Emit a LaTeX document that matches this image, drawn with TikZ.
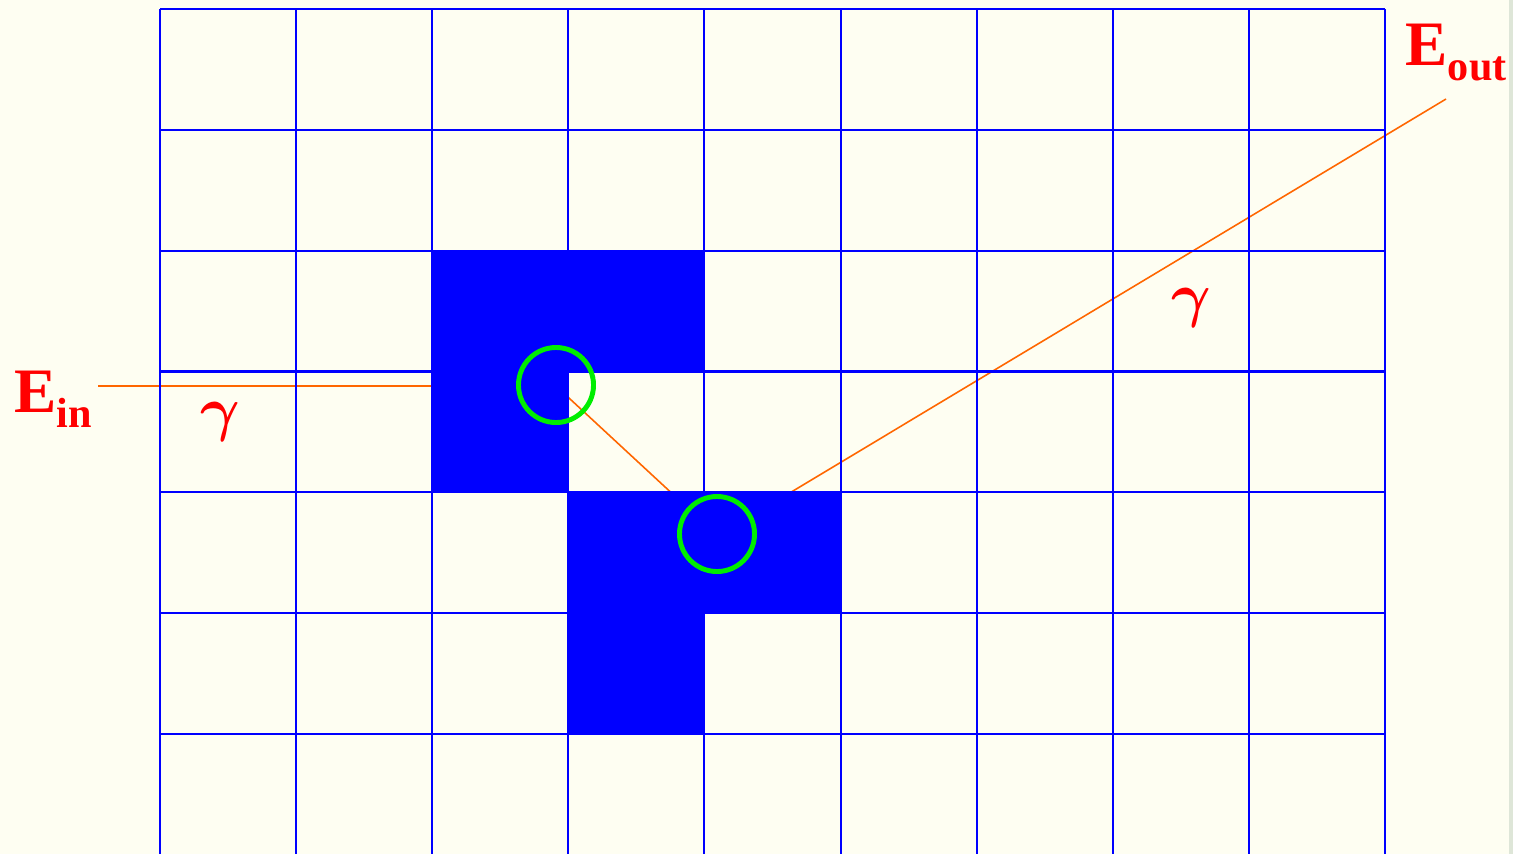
\documentclass[tikz,border=0pt]{standalone}
\usepackage{fontspec}
\setmainfont{Liberation Serif}
\usepackage{tikz}
\usetikzlibrary{positioning}
\usepackage{xcolor}
\definecolor{paper}{RGB}{254,254,242}
\definecolor{gridblue}{RGB}{0,0,255}
\definecolor{raycol}{RGB}{255,102,0}
\definecolor{ringcol}{RGB}{0,238,0}
\definecolor{edgecol}{RGB}{222,230,216}
\newcommand{\Elbl}[1]{\fontsize{18}{18}\selectfont\bfseries E\raisebox{-4.5pt}{\fontsize{12}{12}\selectfont #1}}

\begin{document}
\begin{tikzpicture}[x=0.01cm, y=-0.01cm,
    ray/.style={draw=raycol, line width=0.45pt},
    ring/.style={circle, draw=ringcol, line width=1.4pt, minimum size=0.75cm, inner sep=0pt},
    lbl/.style={text=red, inner sep=0pt, anchor=base west},
    gam/.style={text=red, inner sep=0pt, font=\fontsize{19}{19}\selectfont\boldmath}]
        \fill[paper]  (0,0) rectangle (1513,854);
        \fill[edgecol]  (1509,0) rectangle (1513,854);
        \useasboundingbox (0,0) rectangle (1513,854);
        % ray through the blocked cells
        \coordinate (ein) at (98,386);
        \coordinate (hit1) at (556,386);
        \coordinate (hit2) at (718,536);
        \coordinate (eout) at (1446,99);
        \draw[ray] (ein) -- (hit1) -- (hit2) -- (eout);
        % blocked cells
        \fill[gridblue]  (432,250.7) rectangle (704,371.5);
        \fill[gridblue]  (432,371.5) rectangle (568,492.3);
        \fill[gridblue]  (568,492.3) rectangle (840,613.2);
        \fill[gridblue]  (568,613.2) rectangle (704,734);
        % grid
        \foreach \i in {0,...,9}
          \draw[gridblue, line width=0.57pt] (160+136.11*\i,9) -- (160+136.11*\i,854);
        \foreach \j in {0,...,6}
          \draw[gridblue, line width=0.57pt] (160,9+120.83*\j) -- (1385,9+120.83*\j);
        \node[ring] (ring1) at (556,385) {};
        \node[ring] (ring2) at (717,534) {};
        \node[lbl] (Ein) at (14,412) {\Elbl{in}};
        \node[lbl] (Eout) at (1405,65) {\Elbl{out}};
        \node[gam] (gam1) at (220,422) {$\gamma$};
        \node[gam] (gam2) at (1191,308) {$\gamma$};
      \end{tikzpicture}
\end{document}
